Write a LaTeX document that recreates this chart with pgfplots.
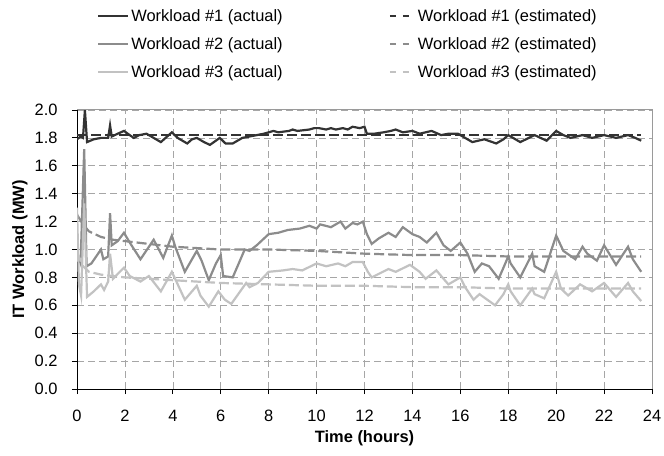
\documentclass[border=0pt]{standalone}
\usepackage{fontspec}
\setmainfont{Liberation Sans}
\usepackage{pgfplots}
\pgfplotsset{compat=1.18}
\definecolor{wlone}{HTML}{333333}
\definecolor{wltwo}{HTML}{8C8C8C}
\definecolor{wlthree}{HTML}{C2C2C2}
\definecolor{gridgray}{HTML}{A6A6A6}
\definecolor{boxgray}{HTML}{9A9A9A}
\newcommand{\chartfont}{\fontsize{16.5}{19}\selectfont}
\pgfplotsset{
  actual/.style={line width=2.2bp, solid,
    legend image code/.code={\draw[##1, line width=2.2bp] (0bp,0bp) -- (30bp,0bp);}},
  estimated/.style={line width=2.2bp, dash pattern=on 10bp off 4bp,
    legend image code/.code={\draw[##1, line width=2.2bp, dash pattern=on 6bp off 7bp] (0bp,0bp) -- (25bp,0bp);}},
}
\begin{document}
\begin{tikzpicture}
\useasboundingbox (0,0) rectangle (664bp,456bp);
\begin{axis}[
  at={(77bp,67bp)}, anchor=south west,
  scale only axis, width=575bp, height=279bp,
  xmin=0, xmax=24, ymin=0, ymax=2,
  xtick={0,2,4,6,8,10,12,14,16,18,20,22,24},
  ytick={0,0.2,0.4,0.6,0.8,1.0,1.2,1.4,1.6,1.8,2.0},
  axis lines=left, axis line style={-, black, line width=1bp},
  tick style={black, line width=0.8bp}, tick align=outside, major tick length=5bp,
  grid=major, grid style={gridgray, dash pattern=on 7bp off 4bp, line width=0.6bp},
  /pgf/number format/assume math mode=true,
  tick label style={font=\chartfont},
  xticklabel style={yshift=-13bp},
  yticklabel style={xshift=-11bp, /pgf/number format/.cd, fixed, fixed zerofill, precision=1},
  xlabel={\textbf{Time (hours)}}, ylabel={\textbf{IT Workload (MW)}},
  label style={font=\chartfont},
  xlabel style={at={(rel axis cs:0.5,0)}, anchor=center, yshift=-49bp},
  ylabel style={at={(rel axis cs:0,0.5)}, anchor=center, yshift=57bp},
  legend columns=2, legend cell align=left,
  legend style={draw=none, fill=none, at={(rel axis cs:0,1)}, anchor=south west,
    xshift=17bp, yshift=27bp, font=\chartfont, row sep=10.5bp,
    /tikz/every even column/.append style={column sep=104bp}},
  after end axis/.code={
    \draw[boxgray, line width=1bp] (rel axis cs:0,1) -- (rel axis cs:1,1) -- (rel axis cs:1,0);
  },
]
\addplot[actual, wlone] coordinates {
(0,1.79) (0.15,1.81) (0.25,1.80) (0.33,2.0) (0.42,1.77) (0.7,1.79) (1.0,1.80) (1.3,1.80)
(1.38,1.89) (1.45,1.81) (1.7,1.83) (1.96,1.85) (2.2,1.82) (2.37,1.80) (2.6,1.82) (2.9,1.83)
(3.2,1.80) (3.5,1.77) (3.96,1.84) (4.2,1.80) (4.6,1.76) (4.8,1.79) (5.0,1.80) (5.3,1.77)
(5.55,1.75) (5.96,1.80) (6.2,1.76) (6.5,1.76) (6.9,1.80) (7.2,1.81) (7.5,1.82) (7.8,1.83)
(8.0,1.84) (8.2,1.85) (8.4,1.84) (8.85,1.85) (9.0,1.86) (9.2,1.85) (9.7,1.86) (9.9,1.87)
(10.1,1.87) (10.4,1.86) (10.6,1.87) (10.8,1.86) (11.1,1.87) (11.3,1.86) (11.5,1.88) (11.8,1.87)
(12.0,1.88) (12.1,1.83) (12.4,1.83) (12.8,1.84) (13.1,1.85) (13.3,1.86) (13.6,1.84) (14.0,1.85)
(14.3,1.83) (14.8,1.85) (15.2,1.82) (15.5,1.83) (15.9,1.83) (16.2,1.80) (16.5,1.77) (17.0,1.79)
(17.5,1.76) (17.8,1.79) (18.0,1.82) (18.5,1.77) (19.1,1.82) (19.6,1.78) (20.0,1.85) (20.3,1.82)
(20.6,1.80) (21.1,1.82) (21.5,1.80) (22.0,1.82) (22.5,1.80) (23.0,1.82) (23.3,1.80) (23.55,1.78)};
\addlegendentry{Workload \#1 (actual)}
\addplot[estimated, wlone] coordinates {(0,1.82) (23.55,1.82)};
\addlegendentry{Workload \#1 (estimated)}
\addplot[actual, wltwo] coordinates {
(0,0.97) (0.15,0.90) (0.3,1.72) (0.4,0.88) (0.6,0.90) (1.0,1.00) (1.1,0.93) (1.3,0.95)
(1.38,1.26) (1.45,1.03) (1.7,1.06) (1.96,1.12) (2.2,1.05) (2.65,0.93) (3.2,1.07) (3.6,0.94)
(3.96,1.10) (4.1,1.02) (4.5,0.84) (5.0,0.99) (5.2,0.92) (5.5,0.78) (5.8,0.90) (6.0,0.96)
(6.1,0.81) (6.5,0.80) (7.0,1.00) (7.2,0.99) (7.5,1.03) (8.0,1.11) (8.4,1.12) (8.8,1.14)
(9.3,1.15) (9.7,1.17) (10.0,1.15) (10.15,1.18) (10.6,1.16) (11.0,1.20) (11.2,1.15) (11.5,1.19)
(11.7,1.18) (11.93,1.20) (12.1,1.11) (12.3,1.04) (12.6,1.08) (13.0,1.12) (13.3,1.09) (13.6,1.16)
(14.0,1.11) (14.3,1.09) (14.6,1.05) (15.0,1.12) (15.3,1.03) (15.6,0.99) (16.0,1.05) (16.3,0.97)
(16.6,0.84) (16.9,0.90) (17.2,0.88) (17.6,0.79) (18.0,0.95) (18.1,0.90) (18.5,0.80) (19.0,0.97)
(19.1,0.88) (19.5,0.84) (20.0,1.10) (20.3,0.99) (20.8,0.93) (21.1,1.02) (21.3,0.97) (21.7,0.92)
(22.0,1.03) (22.5,0.89) (23.0,1.02) (23.2,0.93) (23.55,0.84)};
\addlegendentry{Workload \#2 (actual)}
\addplot[estimated, wltwo] coordinates {
(0,1.25) (0.25,1.18) (0.5,1.13) (1,1.09) (1.5,1.07) (2,1.06) (3,1.04) (4,1.02) (5,1.01)
(6,1.0) (8,1.0) (10,0.99) (12,0.97) (14,0.96) (16,0.96) (18,0.95) (23.55,0.95)};
\addlegendentry{Workload \#2 (estimated)}
\addplot[actual, wlthree] coordinates {
(0,1.30) (0.08,0.75) (0.17,0.67) (0.3,1.33) (0.42,0.66) (0.7,0.70) (1.0,0.75) (1.13,0.71)
(1.3,0.77) (1.38,0.97) (1.5,0.79) (1.96,0.87) (2.2,0.81) (2.65,0.77) (3.0,0.81) (3.5,0.70)
(3.96,0.84) (4.15,0.77) (4.5,0.64) (5.0,0.74) (5.15,0.67) (5.5,0.59) (5.9,0.70) (6.17,0.64)
(6.44,0.61) (7.06,0.76) (7.2,0.73) (7.55,0.76) (8.0,0.84) (8.6,0.85) (9.0,0.86) (9.4,0.85)
(10.0,0.90) (10.4,0.88) (10.9,0.90) (11.2,0.88) (11.5,0.91) (11.93,0.91) (12.14,0.84) (12.3,0.80)
(13.0,0.86) (13.3,0.84) (13.9,0.89) (14.3,0.84) (14.55,0.79) (15.0,0.85) (15.5,0.75) (16.0,0.80)
(16.2,0.73) (16.55,0.64) (16.8,0.68) (17.45,0.60) (17.8,0.68) (18.0,0.75) (18.1,0.70) (18.5,0.60)
(19.0,0.72) (19.1,0.68) (19.5,0.65) (20.0,0.84) (20.2,0.72) (20.5,0.67) (21.0,0.75) (21.5,0.70)
(22.0,0.76) (22.5,0.66) (23.0,0.76) (23.2,0.70) (23.55,0.63)};
\addlegendentry{Workload \#3 (actual)}
\addplot[estimated, wlthree] coordinates {
(0,0.98) (0.25,0.88) (0.5,0.84) (1,0.82) (2,0.80) (3,0.79) (4,0.78) (5,0.77) (6,0.76)
(8,0.75) (10,0.74) (12,0.74) (14,0.73) (16,0.73) (18,0.72) (23.55,0.72)};
\addlegendentry{Workload \#3 (estimated)}
\end{axis}
\end{tikzpicture}
\end{document}
